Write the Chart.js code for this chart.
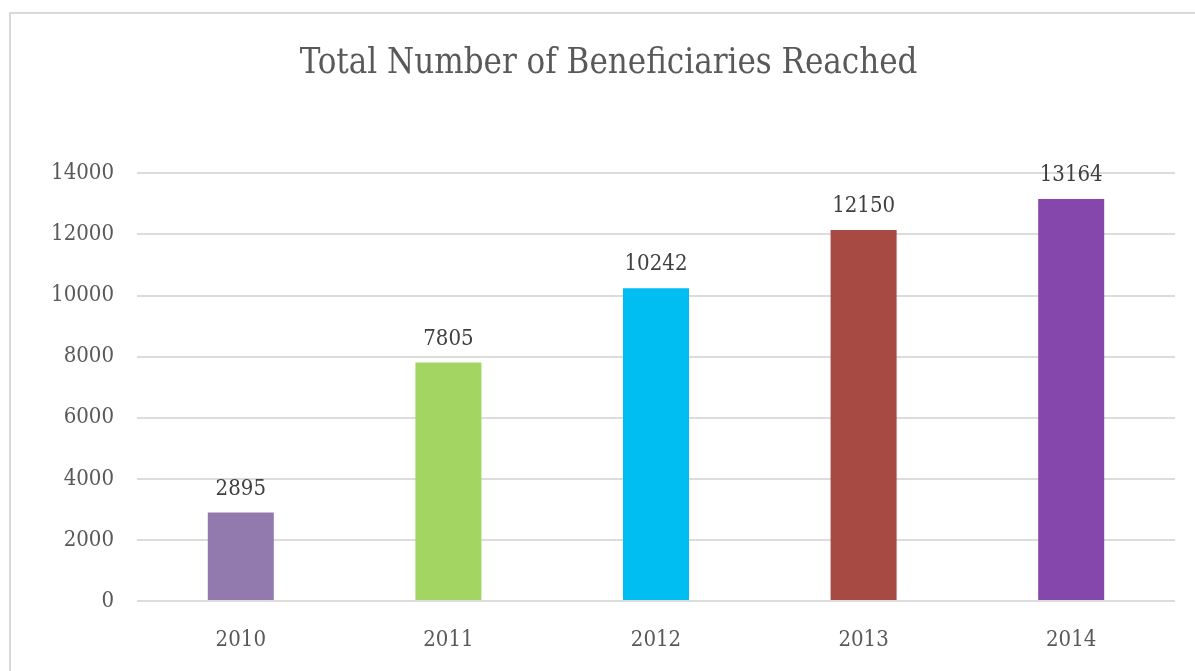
<!DOCTYPE html>
<html>
<head>
<meta charset="utf-8">
<script src="https://cdn.jsdelivr.net/npm/chart.js@4"></script>
<style>
  html, body { margin: 0; padding: 0; background: #fff; overflow: hidden; }
  #box {
    position: absolute; left: 9px; top: 12px;
    width: 1195px; height: 680px;
    border: 2px solid #d9d9d9;
  }
</style>
</head>
<body>
<div id="box"><canvas id="chart" width="1195" height="680"></canvas></div>
<script>
// data
const years = ['2010', '2011', '2012', '2013', '2014'];
const beneficiaries = [2895, 7805, 10242, 12150, 13164];
const barColors = ['#9279ae', '#a2d562', '#00bef2', '#a64a43', '#8547ab'];
const yTicks = [0, 2000, 4000, 6000, 8000, 10000, 12000, 14000];

const FONT = "'DejaVu Serif Condensed', 'DejaVu Serif', serif";

// value labels above each bar
const valueLabels = {
  id: 'valueLabels',
  afterDatasetsDraw(chart) {
    const ctx = chart.ctx;
    const meta = chart.getDatasetMeta(0);
    ctx.save();
    ctx.font = '22px ' + FONT;
    ctx.fillStyle = '#404040';
    ctx.textAlign = 'center';
    ctx.textBaseline = 'alphabetic';
    meta.data.forEach((bar, i) => {
      ctx.fillText(String(beneficiaries[i]), bar.x, bar.y - 18);
    });
    ctx.restore();
  }
};

new Chart(document.getElementById('chart'), {
  type: 'bar',
  data: {
    labels: years,
    datasets: [{
      data: beneficiaries,
      backgroundColor: barColors,
      borderWidth: 0,
      categoryPercentage: 1,
      barPercentage: 0.318
    }]
  },
  options: {
    responsive: false,
    animation: false,
    layout: { padding: 0 },
    plugins: {
      legend: { display: false },
      tooltip: { enabled: false },
      title: {
        display: true,
        text: 'Total Number of Beneficiaries Reached',
        color: '#595959',
        font: { family: FONT, size: 34.5, weight: 'normal' },
        padding: { top: 29, bottom: 89 }
      }
    },
    scales: {
      x: {
        grid: { display: false },
        border: { display: false },
        ticks: { color: '#595959', font: { family: FONT, size: 22 }, padding: 18 },
        afterFit(scale) { scale.height = 93; }
      },
      y: {
        min: 0,
        max: 14000,
        afterBuildTicks(scale) { scale.ticks = yTicks.map(v => ({ value: v })); },
        grid: { color: '#dcdcdc', lineWidth: 2, drawTicks: false },
        border: { display: false },
        ticks: {
          color: '#595959',
          font: { family: FONT, size: 22 },
          padding: 23,
          callback: v => String(v)
        },
        afterFit(scale) { scale.width = 126; }
      },
      // empty right-hand axis, only keeps the blank strip right of the plot
      yRight: {
        position: 'right',
        min: 0,
        max: 14000,
        grid: { display: false },
        border: { display: false },
        ticks: { display: false },
        afterFit(scale) { scale.width = 31; }
      }
    }
  },
  plugins: [valueLabels]
});
</script>
</body>
</html>
